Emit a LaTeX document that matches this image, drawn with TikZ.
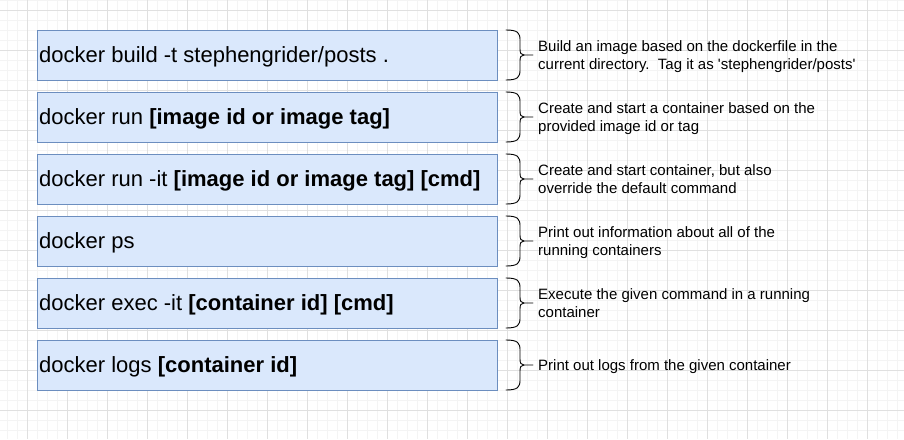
\documentclass[tikz,border=0pt]{standalone}
\usepackage{fontspec}
\setmainfont{Liberation Sans}
\definecolor{cmdfill}{HTML}{DAE8FC}
\definecolor{cmdline}{HTML}{6C8EBF}
\definecolor{gridminor}{HTML}{F4F4F4}
\definecolor{gridmajor}{HTML}{E0E0E0}
\tikzset{
  cmdbox/.style={draw=cmdline, fill=cmdfill, line width=0.9pt, minimum width=460pt,
    minimum height=50pt, inner sep=0pt, anchor=north west},
  cmdtext/.style={anchor=base west, inner sep=0pt, font=\fontsize{22}{26}\selectfont},
  desctext/.style={anchor=base west, inner sep=0pt, align=left,
    font=\fontsize{15}{17.6}\selectfont},
  brace/.style={line width=0.9pt, line cap=round}
}
\begin{document}
\begin{tikzpicture}[x=1pt, y=-1pt]
    \useasboundingbox (0,0) rectangle (904,439);
    \fill[white] (0,0) rectangle (904,439);

    % grid
    \foreach \gx in {7,17,...,904} \draw[gridminor, line width=0.8pt] (\gx,0) -- (\gx,439);
    \foreach \gy in {0,10,...,439} \draw[gridminor, line width=0.8pt] (0,\gy) -- (904,\gy);
    \foreach \gx in {27,67,...,904} \draw[gridmajor, line width=0.9pt] (\gx,0) -- (\gx,439);
    \foreach \gy in {10,50,...,439} \draw[gridmajor, line width=0.9pt] (0,\gy) -- (904,\gy);

    % commands
    \node[cmdbox] at (36.5,30)  (cmd1) {};
    \node[cmdbox] at (36.5,92)  (cmd2) {};
    \node[cmdbox] at (36.5,154) (cmd3) {};
    \node[cmdbox] at (36.5,216) (cmd4) {};
    \node[cmdbox] at (36.5,278) (cmd5) {};
    \node[cmdbox] at (36.5,340) (cmd6) {};

    \node[cmdtext] at (39,62.5)  (t1) {docker build -t stephengrider/posts .};
    \node[cmdtext] at (39,124.5) (t2) {docker run \textbf{[image id or image tag]}};
    \node[cmdtext] at (39,186.5) (t3) {docker run -it \textbf{[image id or image tag] [cmd]}};
    \node[cmdtext] at (39,248.5) (t4) {docker ps};
    \node[cmdtext] at (39,310.5) (t5) {docker exec -it \textbf{[container id] [cmd]}};
    \node[cmdtext] at (39,372.5) (t6) {docker logs \textbf{[container id]}};

    % braces
    \foreach \t in {30,92,154,216,278,340} {
        \draw[brace] (506,\t) .. controls (518,\t) and (520,\t+3) .. (520,\t+10) -- (520,\t+19)
            .. controls (520,\t+23) and (521,\t+25) .. (524,\t+25) -- (533,\t+25);
        \draw[brace] (506,\t+50) .. controls (518,\t+50) and (520,\t+47) .. (520,\t+40) -- (520,\t+31)
            .. controls (520,\t+27) and (521,\t+25) .. (524,\t+25);
    }

    % descriptions (base = last line)
    \node[desctext] at (538,69.3)  (d1) {Build an image based on the dockerfile in the\\current directory.\ \ Tag it as \textquotesingle stephengrider/posts\textquotesingle};
    \node[desctext] at (538,131.3) (d2) {Create and start a container based on the\\provided image id or tag};
    \node[desctext] at (538,193.3) (d3) {Create and start container, but also\\override the default command};
    \node[desctext] at (538,255.3) (d4) {Print out information about all of the\\running containers};
    \node[desctext] at (538,317.3) (d5) {Execute the given command in a running\\container};
    \node[desctext] at (538,370)   (d6) {Print out logs from the given container};

\end{tikzpicture}
\end{document}
